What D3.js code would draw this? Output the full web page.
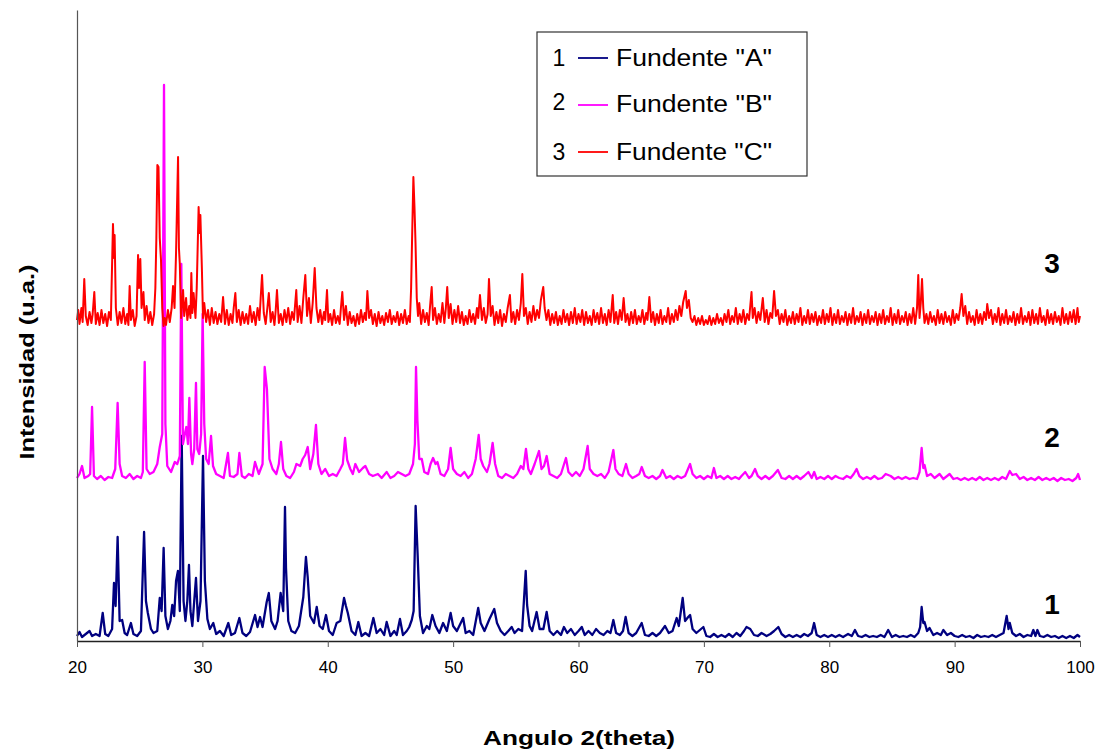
<!DOCTYPE html>
<html>
<head>
<meta charset="utf-8">
<script src="https://cdn.jsdelivr.net/npm/d3@7"></script>
<style>
  body { margin: 0; background: #fff; }
  svg { display: block; font-family: "Liberation Sans", Arial, sans-serif; }
</style>
</head>
<body>
<svg id="canvas" width="1099" height="750"></svg>
<script>
// difractogramas: [2theta, intensidad (u.a.)]
let seriesNames = ['Fundente "A"', 'Fundente "B"', 'Fundente "C"'];
let seriesLabels = ['1', '2', '3'];
let seriesColors = ['#000080', '#FF00FF', '#FF0000'];
let seriesOffsets = [0, 157, 313]; // desplazamiento vertical de cada curva
let xTicks = [20, 30, 40, 50, 60, 70, 80, 90, 100];

let fundenteA = [[20.0,5],[20.2,9],[20.4,4],[20.7,7],[21.0,10],[21.2,5],[21.5,7],[21.8,5],[22.05,28],[22.25,7],[22.5,5],[22.8,12],[22.95,58],[23.08,35],[23.24,104],[23.4,20],[23.6,21],[23.8,8],[24.0,6],[24.3,18],[24.5,7],[24.8,5],[25.1,10],[25.35,109],[25.5,40],[25.65,28],[25.9,12],[26.1,8],[26.4,10],[26.6,43],[26.75,30],[26.91,93],[27.05,25],[27.25,12],[27.45,20],[27.6,36],[27.75,25],[27.9,60],[28.05,70],[28.2,30],[28.35,205],[28.5,40],[28.65,20],[28.8,40],[28.93,76],[29.05,30],[29.2,15],[29.35,40],[29.49,63],[29.65,20],[29.85,40],[30.05,185],[30.2,60],[30.4,22],[30.6,12],[30.87,18],[31.1,7],[31.4,10],[31.7,5],[32.07,18],[32.3,6],[32.6,8],[32.95,23],[33.2,8],[33.5,5],[33.8,9],[34.2,26],[34.4,14],[34.6,24],[34.8,14],[35.13,39],[35.3,48],[35.5,20],[35.8,12],[36.0,20],[36.24,48],[36.45,30],[36.59,134],[36.67,73],[36.85,20],[37.1,10],[37.4,8],[37.7,15],[38.05,44],[38.26,84],[38.4,64],[38.6,25],[38.9,18],[39.12,34],[39.35,15],[39.6,12],[39.86,26],[40.1,10],[40.4,6],[40.71,18],[41.0,20],[41.3,43],[41.45,35],[41.6,28],[41.9,10],[42.2,6],[42.44,19],[42.7,5],[43.0,8],[43.3,5],[43.64,23],[43.9,8],[44.2,12],[44.5,6],[44.7,19],[45.0,5],[45.3,10],[45.5,6],[45.76,22],[46.0,6],[46.3,10],[46.5,14],[46.7,21],[46.85,30],[47.01,135],[47.17,86],[47.35,25],[47.6,8],[47.9,15],[48.1,12],[48.34,26],[48.6,15],[48.9,8],[49.2,18],[49.5,10],[49.8,28],[50.0,15],[50.3,10],[50.8,23],[51.0,8],[51.3,10],[51.6,6],[52.0,33],[52.2,18],[52.5,10],[52.9,22],[53.28,32],[53.5,18],[53.8,10],[54.1,6],[54.4,10],[54.67,14],[54.9,8],[55.2,12],[55.5,10],[55.79,70],[55.9,36],[56.1,15],[56.3,10],[56.66,29],[56.9,12],[57.2,12],[57.46,29],[57.7,10],[58.0,6],[58.3,10],[58.6,6],[58.84,14],[59.1,8],[59.4,12],[59.7,6],[60.0,10],[60.26,14],[60.5,6],[60.8,10],[61.1,6],[61.4,12],[61.7,8],[62.0,6],[62.3,10],[62.55,8],[62.78,21],[63.0,8],[63.3,6],[63.55,10],[63.76,24],[64.0,8],[64.3,5],[64.6,8],[65.04,18],[65.3,6],[65.6,5],[65.9,8],[66.2,5],[66.5,8],[66.9,15],[67.2,8],[67.5,10],[67.83,23],[68.0,15],[68.31,43],[68.5,20],[68.75,24],[68.9,26],[69.1,12],[69.4,8],[69.96,14],[70.2,5],[70.5,4],[70.8,7],[71.1,4],[71.4,6],[71.7,4],[72.0,7],[72.3,4],[72.6,8],[72.9,5],[73.2,10],[73.4,14],[73.7,12],[74.0,6],[74.3,5],[74.6,8],[75.0,5],[75.3,7],[75.6,10],[75.94,14],[76.2,7],[76.5,4],[76.8,6],[77.1,4],[77.4,6],[77.7,4],[78.0,7],[78.3,5],[78.6,8],[78.79,18],[79.0,6],[79.3,4],[79.6,6],[79.9,4],[80.2,6],[80.5,4],[80.8,6],[81.1,4],[81.5,7],[81.8,5],[82.05,11],[82.3,5],[82.6,4],[82.9,6],[83.2,4],[83.5,5],[83.8,4],[84.1,6],[84.4,4],[84.7,11],[85.0,4],[85.3,6],[85.6,4],[85.9,5],[86.2,4],[86.5,6],[86.8,4],[87.1,8],[87.25,14],[87.37,34],[87.5,18],[87.6,19],[87.8,10],[88.0,13],[88.3,6],[88.6,8],[88.9,6],[89.1,11],[89.4,6],[89.7,8],[90.0,5],[90.3,4],[90.6,6],[90.9,4],[91.2,5],[91.5,3],[91.8,6],[92.1,4],[92.4,5],[92.7,4],[93.0,6],[93.3,4],[93.6,6],[93.9,8],[94.15,25],[94.3,12],[94.4,18],[94.6,8],[94.9,5],[95.2,7],[95.5,4],[95.8,6],[96.1,5],[96.28,11],[96.45,5],[96.6,11],[96.8,5],[97.1,4],[97.4,6],[97.7,4],[98.0,5],[98.3,3],[98.6,5],[98.9,3],[99.2,5],[99.5,3],[99.8,6],[100.0,4]];

let fundenteB = [[20.0,6],[20.2,10],[20.4,18],[20.6,6],[20.9,8],[21.05,10],[21.2,77],[21.35,8],[21.6,5],[21.9,8],[22.2,4],[22.5,7],[22.8,6],[23.05,15],[23.24,81],[23.4,20],[23.6,8],[23.9,6],[24.2,10],[24.5,5],[24.8,8],[25.1,6],[25.25,12],[25.4,122],[25.55,15],[25.8,10],[26.1,12],[26.4,20],[26.6,37],[26.8,50],[26.94,399],[27.05,60],[27.2,18],[27.5,12],[27.8,22],[28.0,20],[28.2,28],[28.32,220],[28.45,40],[28.6,50],[28.72,57],[28.85,40],[28.96,86],[29.1,30],[29.2,20],[29.35,35],[29.49,101],[29.6,35],[29.75,30],[29.9,50],[30.02,170],[30.15,60],[30.3,25],[30.5,20],[30.69,48],[30.85,18],[31.1,10],[31.4,8],[31.7,6],[32.04,31],[32.2,8],[32.5,7],[32.8,10],[32.95,31],[33.15,8],[33.4,6],[33.7,10],[34.0,8],[34.2,22],[34.5,10],[34.8,20],[34.97,117],[35.15,95],[35.35,25],[35.6,15],[35.9,10],[36.1,20],[36.27,42],[36.45,15],[36.7,8],[37.0,6],[37.3,12],[37.5,20],[37.8,18],[38.0,25],[38.2,29],[38.4,37],[38.6,15],[38.85,30],[39.06,59],[39.25,20],[39.5,10],[39.8,15],[40.1,8],[40.4,10],[40.7,8],[41.0,15],[41.2,20],[41.38,46],[41.55,24],[41.8,15],[42.0,10],[42.2,20],[42.5,12],[42.8,16],[43.0,18],[43.3,10],[43.6,8],[44.0,10],[44.3,6],[44.7,12],[45.0,6],[45.3,8],[45.6,12],[45.9,10],[46.2,8],[46.5,10],[46.8,20],[46.95,40],[47.04,117],[47.15,64],[47.3,25],[47.5,25],[47.7,12],[48.0,10],[48.2,20],[48.4,26],[48.6,20],[48.75,22],[49.0,10],[49.3,8],[49.6,15],[49.8,36],[50.0,15],[50.3,10],[50.6,8],[50.9,12],[51.2,6],[51.5,10],[51.8,25],[52.04,49],[52.2,25],[52.4,18],[52.7,12],[52.9,20],[53.15,41],[53.35,20],[53.6,8],[53.9,6],[54.2,10],[54.5,8],[54.8,6],[55.1,10],[55.4,18],[55.6,15],[55.81,35],[56.0,15],[56.2,10],[56.5,20],[56.85,33],[57.05,15],[57.25,18],[57.46,28],[57.7,10],[58.0,8],[58.3,6],[58.6,10],[59.0,26],[59.2,12],[59.5,8],[59.8,12],[60.1,8],[60.4,15],[60.73,38],[60.9,15],[61.2,10],[61.5,8],[61.8,10],[62.1,6],[62.4,12],[62.78,34],[62.95,15],[63.2,10],[63.5,8],[63.79,20],[64.0,10],[64.3,6],[64.6,8],[64.85,10],[65.04,17],[65.3,8],[65.6,6],[65.9,8],[66.2,5],[66.5,8],[66.7,14],[67.0,6],[67.3,8],[67.6,5],[67.9,8],[68.2,6],[68.5,8],[68.9,20],[69.1,10],[69.4,6],[69.7,8],[70.0,5],[70.3,8],[70.6,6],[70.8,16],[71.0,6],[71.3,8],[71.6,5],[71.9,8],[72.2,5],[72.5,7],[72.8,5],[73.0,8],[73.3,12],[73.6,6],[73.8,8],[74.08,15],[74.3,8],[74.6,5],[74.9,8],[75.2,5],[75.5,8],[75.9,14],[76.2,6],[76.5,5],[76.8,8],[77.1,5],[77.4,8],[77.7,5],[78.0,8],[78.34,12],[78.6,6],[78.8,12],[79.0,5],[79.3,7],[79.6,5],[79.9,8],[80.2,5],[80.5,8],[80.8,6],[81.1,5],[81.4,8],[81.7,6],[81.95,10],[82.18,15],[82.4,8],[82.7,5],[83.0,7],[83.3,5],[83.6,8],[83.9,5],[84.2,6],[84.5,10],[84.9,8],[85.2,5],[85.5,7],[85.8,5],[86.1,7],[86.4,5],[86.7,6],[87.0,5],[87.2,12],[87.37,36],[87.5,16],[87.6,19],[87.8,8],[88.1,10],[88.4,6],[88.8,10],[89.1,5],[89.4,8],[89.6,10],[89.9,5],[90.2,6],[90.5,4],[90.8,6],[91.1,4],[91.4,6],[91.7,4],[92.0,7],[92.3,4],[92.6,6],[92.9,4],[93.2,6],[93.5,4],[93.8,7],[94.1,5],[94.4,13],[94.6,9],[94.9,10],[95.2,5],[95.5,7],[95.8,4],[96.1,6],[96.4,4],[96.7,7],[97.0,4],[97.3,6],[97.6,4],[97.9,6],[98.2,3],[98.5,6],[98.8,4],[99.1,5],[99.4,3],[99.7,6],[99.85,10],[100.0,4]];

let fundenteC = [[20.0,8],[20.1,18],[20.2,4],[20.35,20],[20.45,6],[20.58,49],[20.7,12],[20.85,3],[21.0,16],[21.15,5],[21.25,14],[21.38,36],[21.5,4],[21.65,15],[21.8,3],[21.95,18],[22.1,5],[22.25,14],[22.4,2],[22.55,16],[22.7,8],[22.87,104],[22.95,70],[23.0,93],[23.1,20],[23.25,3],[23.4,16],[23.55,5],[23.7,20],[23.85,4],[24.0,14],[24.1,3],[24.2,42],[24.3,8],[24.45,18],[24.6,2],[24.75,12],[24.87,73],[24.95,40],[25.05,69],[25.15,20],[25.3,36],[25.4,8],[25.55,22],[25.7,5],[25.85,16],[26.0,3],[26.15,14],[26.25,40],[26.33,90],[26.41,163],[26.5,161],[26.6,90],[26.7,68],[26.8,20],[26.9,2],[27.0,10],[27.1,3],[27.25,18],[27.4,6],[27.55,20],[27.66,42],[27.78,20],[27.9,75],[28.06,171],[28.13,80],[28.2,64],[28.3,10],[28.46,38],[28.55,12],[28.7,30],[28.8,8],[28.95,22],[29.05,10],[29.12,55],[29.2,15],[29.3,35],[29.45,10],[29.55,40],[29.7,121],[29.78,95],[29.84,113],[29.96,60],[30.05,10],[30.15,25],[30.3,6],[30.45,18],[30.6,3],[30.75,20],[30.9,5],[31.05,16],[31.2,4],[31.35,14],[31.5,6],[31.65,31],[31.8,4],[31.95,18],[32.1,3],[32.25,14],[32.4,5],[32.5,20],[32.63,35],[32.75,6],[32.9,18],[33.05,3],[33.2,16],[33.35,5],[33.5,14],[33.65,4],[33.8,22],[33.95,6],[34.1,16],[34.25,3],[34.4,20],[34.55,8],[34.65,30],[34.76,53],[34.9,15],[35.05,4],[35.2,22],[35.3,35],[35.45,6],[35.6,16],[35.75,3],[35.85,18],[35.95,38],[36.1,5],[36.25,14],[36.4,3],[36.55,18],[36.7,6],[36.85,20],[37.0,4],[37.15,16],[37.3,8],[37.49,38],[37.6,6],[37.75,22],[37.9,5],[38.05,30],[38.21,53],[38.35,12],[38.5,30],[38.65,5],[38.8,25],[38.96,60],[39.1,20],[39.25,6],[39.4,18],[39.55,4],[39.7,16],[39.8,8],[39.94,38],[40.05,6],[40.2,14],[40.35,3],[40.5,18],[40.65,5],[40.8,12],[40.95,4],[41.05,20],[41.16,36],[41.3,8],[41.45,22],[41.6,3],[41.75,16],[41.9,5],[42.05,12],[42.2,2],[42.35,14],[42.5,4],[42.65,18],[42.8,6],[42.95,15],[43.05,8],[43.16,37],[43.3,10],[43.45,18],[43.6,4],[43.75,14],[43.9,2],[44.05,16],[44.2,5],[44.35,12],[44.5,3],[44.65,15],[44.8,6],[44.95,18],[45.1,4],[45.25,12],[45.4,6],[45.55,16],[45.7,3],[45.85,14],[46.0,5],[46.15,18],[46.3,4],[46.45,12],[46.55,6],[46.65,40],[46.72,85],[46.83,151],[46.92,120],[47.0,85],[47.1,30],[47.2,12],[47.3,25],[47.45,4],[47.6,18],[47.75,6],[47.9,15],[48.05,3],[48.15,20],[48.29,41],[48.4,8],[48.55,20],[48.7,4],[48.85,14],[49.0,6],[49.15,25],[49.3,5],[49.42,20],[49.53,41],[49.65,10],[49.8,24],[49.95,4],[50.1,18],[50.25,6],[50.4,22],[50.55,5],[50.7,16],[50.85,3],[51.0,12],[51.15,4],[51.3,18],[51.45,6],[51.6,14],[51.75,4],[51.9,20],[52.0,10],[52.14,33],[52.3,8],[52.45,20],[52.6,5],[52.75,14],[52.86,49],[53.0,12],[53.15,22],[53.3,3],[53.45,16],[53.6,5],[53.75,18],[53.9,2],[54.05,14],[54.2,6],[54.35,20],[54.53,33],[54.65,6],[54.8,16],[54.95,4],[55.1,18],[55.25,8],[55.4,25],[55.52,54],[55.65,12],[55.8,20],[55.95,4],[56.1,16],[56.25,6],[56.4,22],[56.55,8],[56.7,18],[56.85,10],[57.0,28],[57.19,41],[57.3,20],[57.45,8],[57.6,18],[57.75,3],[57.9,14],[58.05,5],[58.2,16],[58.35,3],[58.5,12],[58.65,4],[58.8,18],[58.95,6],[59.1,14],[59.25,3],[59.4,16],[59.55,5],[59.7,20],[59.85,4],[60.0,14],[60.15,6],[60.3,18],[60.45,3],[60.6,16],[60.75,5],[60.9,12],[61.05,3],[61.2,18],[61.35,6],[61.5,15],[61.65,4],[61.8,20],[61.95,5],[62.1,14],[62.25,3],[62.4,18],[62.55,6],[62.73,33],[62.85,5],[63.0,16],[63.15,4],[63.3,18],[63.45,8],[63.6,30],[63.75,6],[63.9,14],[64.05,3],[64.2,16],[64.35,5],[64.5,18],[64.65,4],[64.8,12],[64.95,6],[65.1,18],[65.25,4],[65.4,15],[65.5,8],[65.65,31],[65.8,6],[65.95,16],[66.1,3],[66.25,14],[66.4,5],[66.55,18],[66.7,4],[66.85,12],[67.0,6],[67.15,20],[67.3,4],[67.45,14],[67.6,6],[67.75,18],[67.9,8],[68.05,22],[68.2,12],[68.35,26],[68.55,37],[68.65,20],[68.8,28],[68.95,10],[69.1,6],[69.25,12],[69.4,3],[69.55,10],[69.7,4],[69.85,12],[70.0,3],[70.15,8],[70.3,4],[70.45,12],[70.6,3],[70.75,10],[70.9,4],[71.05,14],[71.2,5],[71.35,10],[71.5,3],[71.65,14],[71.8,6],[71.95,18],[72.1,4],[72.25,12],[72.4,6],[72.55,20],[72.7,4],[72.85,14],[73.0,6],[73.15,18],[73.3,4],[73.45,14],[73.6,8],[73.8,36],[73.9,10],[74.05,20],[74.2,5],[74.35,16],[74.5,8],[74.7,30],[74.85,6],[75.0,18],[75.15,4],[75.3,15],[75.45,10],[75.6,37],[75.75,12],[75.9,18],[76.05,4],[76.2,14],[76.35,6],[76.5,18],[76.65,3],[76.8,12],[76.95,5],[77.1,16],[77.25,4],[77.4,14],[77.55,6],[77.7,20],[77.85,3],[78.0,12],[78.15,5],[78.3,18],[78.45,4],[78.6,14],[78.75,6],[78.9,16],[79.05,3],[79.2,12],[79.35,5],[79.5,18],[79.65,4],[79.8,14],[79.95,6],[80.1,20],[80.25,3],[80.4,14],[80.55,5],[80.7,18],[80.85,4],[81.0,12],[81.15,6],[81.3,16],[81.45,3],[81.6,14],[81.75,5],[81.9,20],[82.05,4],[82.2,12],[82.35,6],[82.5,16],[82.65,3],[82.8,14],[82.95,5],[83.1,18],[83.25,4],[83.4,12],[83.55,6],[83.7,16],[83.85,3],[84.0,14],[84.15,5],[84.3,18],[84.45,4],[84.6,12],[84.75,6],[84.9,20],[85.05,3],[85.2,14],[85.35,5],[85.5,18],[85.65,4],[85.8,12],[85.95,6],[86.1,16],[86.25,3],[86.4,14],[86.55,5],[86.7,20],[86.85,4],[87.0,20],[87.1,53],[87.2,10],[87.3,25],[87.4,49],[87.5,20],[87.6,5],[87.75,14],[87.9,4],[88.05,16],[88.2,6],[88.35,12],[88.5,3],[88.65,18],[88.8,5],[88.95,14],[89.1,4],[89.25,16],[89.4,6],[89.55,12],[89.7,3],[89.85,18],[90.0,5],[90.15,14],[90.3,8],[90.45,20],[90.56,34],[90.7,12],[90.85,22],[91.0,4],[91.15,16],[91.3,6],[91.45,12],[91.6,3],[91.75,18],[91.9,5],[92.05,14],[92.2,4],[92.35,16],[92.5,8],[92.6,24],[92.75,10],[92.9,18],[93.05,4],[93.2,14],[93.35,6],[93.5,20],[93.65,3],[93.8,14],[93.95,5],[94.1,18],[94.25,4],[94.4,12],[94.55,6],[94.7,16],[94.85,3],[95.0,14],[95.15,5],[95.3,20],[95.45,4],[95.6,12],[95.75,6],[95.9,16],[96.05,3],[96.2,18],[96.35,5],[96.5,14],[96.65,4],[96.8,20],[96.95,6],[97.1,12],[97.25,3],[97.4,18],[97.55,5],[97.7,14],[97.85,4],[98.0,16],[98.15,6],[98.3,12],[98.45,3],[98.6,20],[98.75,5],[98.9,14],[99.05,4],[99.2,16],[99.35,6],[99.5,18],[99.65,4],[99.8,20],[99.9,6],[100.0,12]];

let allSeries = [fundenteA, fundenteB, fundenteC];
let strokeWidths = [2.3, 2.3, 2];

let svg = d3.select('#canvas');

let x = d3.scaleLinear().domain([20, 100]).range([77, 1080]);
let y = d3.scaleLinear().domain([0, 631]).range([641, 10]);

// curvas (la 1 primero, la 3 queda encima)
allSeries.forEach((serie, i) => {
    let line = d3.line()
        .x(d => x(d[0]))
        .y(d => y(d[1] + seriesOffsets[i]));
    svg.append('path')
        .datum(serie)
        .attr('d', line)
        .attr('fill', 'none')
        .attr('stroke', seriesColors[i])
        .attr('stroke-width', strokeWidths[i])
        .attr('stroke-linejoin', 'round');
});

// eje x
let xAxis = svg.append('g')
    .attr('transform', 'translate(0,' + y(0) + ')')
    .call(d3.axisBottom(x).tickValues(xTicks).tickSize(6).tickSizeOuter(0).tickPadding(14));
xAxis.select('.domain').attr('stroke', '#222').attr('stroke-width', 1.5);
xAxis.selectAll('.tick line').attr('stroke', '#555');
xAxis.selectAll('.tick text')
    .attr('fill', '#000')
    .style('font-size', '17px')
    .style('font-family', '"Liberation Sans", Arial, sans-serif');

// eje y sin marcas
let yAxis = svg.append('g')
    .attr('transform', 'translate(' + x(20) + ',0)')
    .call(d3.axisLeft(y).tickValues([]).tickSizeOuter(0));
yAxis.select('.domain').attr('stroke', '#555').attr('stroke-width', 1.2);

// titulos de ejes
svg.append('text')
    .attr('x', 579).attr('y', 745)
    .attr('text-anchor', 'middle')
    .attr('font-weight', 'bold').attr('font-size', 20)
    .attr('textLength', 192).attr('lengthAdjust', 'spacingAndGlyphs')
    .text('Angulo 2(theta)');

svg.append('text')
    .attr('transform', 'translate(34,362) rotate(-90)')
    .attr('text-anchor', 'middle')
    .attr('font-weight', 'bold').attr('font-size', 20)
    .attr('textLength', 195).attr('lengthAdjust', 'spacingAndGlyphs')
    .text('Intensidad (u.a.)');

// numero junto a cada curva
let curveLabelY = [604, 437, 263];
seriesLabels.forEach((lab, i) => {
    svg.append('text')
        .attr('x', 1052).attr('y', curveLabelY[i])
        .attr('dy', '0.36em')
        .attr('text-anchor', 'middle')
        .attr('font-weight', 'bold').attr('font-size', 28)
        .text(lab);
});

// leyenda
let legend = svg.append('g');
legend.append('rect')
    .attr('x', 537).attr('y', 32).attr('width', 270).attr('height', 144)
    .attr('fill', '#fff').attr('stroke', '#333').attr('stroke-width', 1.2);
let legendRowY = [58, 104, 152];
seriesNames.forEach((name, i) => {
    let ry = legendRowY[i];
    legend.append('text')
        .attr('x', 559).attr('y', ry - (i == 1 ? 2 : 0)).attr('dy', '0.36em')
        .attr('text-anchor', 'middle').attr('font-size', 23)
        .text(seriesLabels[i]);
    legend.append('line')
        .attr('x1', 578).attr('x2', 608)
        .attr('y1', ry + (i == 1 ? 1 : 0)).attr('y2', ry + (i == 1 ? 1 : 0))
        .attr('stroke', seriesColors[i]).attr('stroke-width', 1.8);
    legend.append('text')
        .attr('x', 616).attr('y', ry).attr('dy', '0.36em')
        .attr('font-size', 23)
        .attr('textLength', 156).attr('lengthAdjust', 'spacingAndGlyphs')
        .text(name);
});
</script>
</body>
</html>
